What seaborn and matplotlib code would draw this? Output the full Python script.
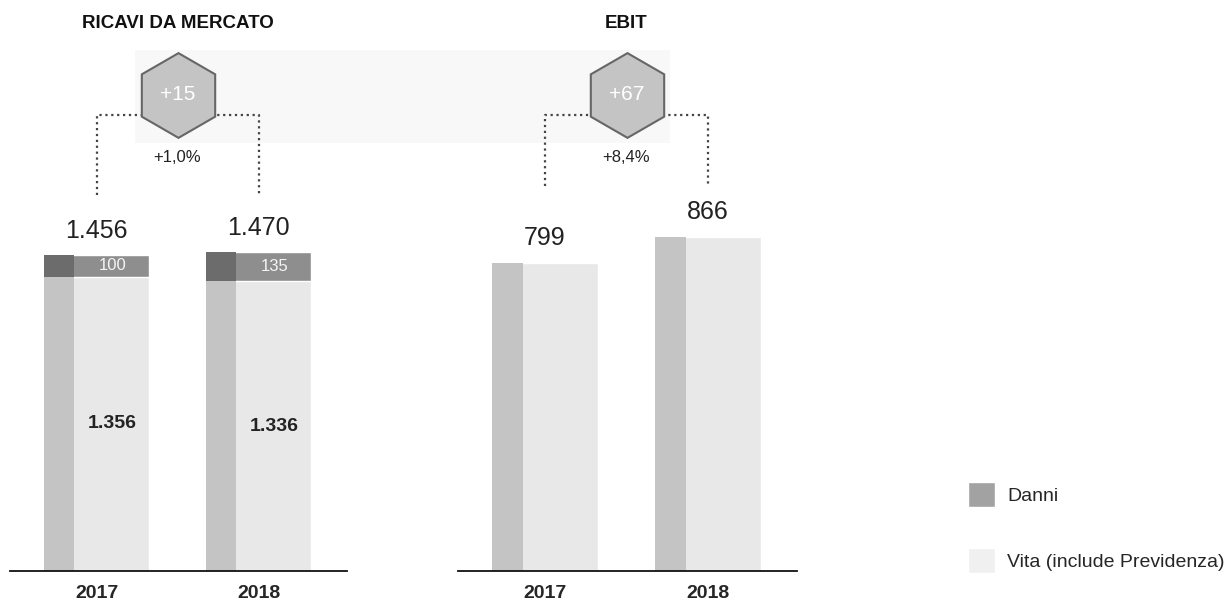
import matplotlib
matplotlib.use("Agg")
import matplotlib.pyplot as plt
import matplotlib.transforms as mtrans
from matplotlib.patches import Patch, Rectangle
import pandas as pd
import seaborn as sns

# dati
anni = ["2017", "2018"]
ricavi_vita = [1356, 1336]
ricavi_danni = [100, 135]
ricavi_totale = [1456, 1470]
ebit = [799, 866]
delta_ricavi = "+15"
delta_ricavi_pct = "+1,0%"
delta_ebit = "+67"
delta_ebit_pct = "+8,4%"

DANNI = "#8e8e8e"
DANNI_SCURO = "#6c6c6c"
VITA = "#e8e8e8"
VITA_SCURO = "#c4c4c4"

sns.set_style("white")
plt.rcParams['font.family'] = ['Liberation Sans', 'DejaVu Sans']

W, H = 1232, 607


def fmt(v):
    return f"{v:,}".replace(",", ".")


def striscia(ax, p, bottom, top, colore):
    # banda scura sul lato sinistro della barra
    ax.add_patch(Rectangle((p.get_x(), bottom), p.get_width() * 0.29, top - bottom,
                           facecolor=colore, edgecolor="none", zorder=p.get_zorder()))


fig = plt.figure(figsize=(W / 100, H / 100), dpi=100)
ax1 = fig.add_axes([10 / W, 36 / H, 337 / W, 531 / H])
ax2 = fig.add_axes([458 / W, 36 / H, 339 / W, 531 / H])

# sfondo chiaro dietro gli esagoni
fig.patches.append(Rectangle((135 / W, 1 - 143 / H), 535 / W, 93 / H, transform=fig.transFigure,
                             facecolor="#f8f8f8", edgecolor="none", zorder=-1))

# --- RICAVI DA MERCATO ---
df_ricavi = pd.DataFrame({"anno": anni, "vita": ricavi_vita, "danni": ricavi_danni, "totale": ricavi_totale})
sns.barplot(data=df_ricavi, x="anno", y="totale", color=DANNI, width=0.65, saturation=1, ax=ax1)
sns.barplot(data=df_ricavi, x="anno", y="vita", color=VITA, width=0.65, saturation=1, ax=ax1)
tot_patches = list(ax1.patches[:2])
vita_patches = list(ax1.patches[2:4])
for pt, pv in zip(tot_patches, vita_patches):
    striscia(ax1, pv, 0, pv.get_height(), VITA_SCURO)
    striscia(ax1, pt, pv.get_height(), pt.get_height(), DANNI_SCURO)

for i, (v, d, t) in enumerate(zip(ricavi_vita, ricavi_danni, ricavi_totale)):
    ax1.annotate(fmt(t), (i, t), xytext=(0, 9), textcoords="offset points",
                 ha="center", va="bottom", fontsize=18, color="#222222")
    ax1.text(i + 0.1, v / 2, fmt(v), ha="center", va="center", fontsize=14,
             fontweight="bold", color="#222222")
    ax1.text(i + 0.1, v + d / 2, fmt(d), ha="center", va="center", fontsize=12, color="#f4f4f4")
ax1.set_ylim(0, 2447)

# --- EBIT ---
df_ebit = pd.DataFrame({"anno": anni, "ebit": ebit})
sns.barplot(data=df_ebit, x="anno", y="ebit", color=VITA, width=0.65, saturation=1, ax=ax2)
for p in list(ax2.patches):
    striscia(ax2, p, 0, p.get_height(), VITA_SCURO)
for i, v in enumerate(ebit):
    ax2.annotate(fmt(v), (i, v), xytext=(0, 9), textcoords="offset points",
                 ha="center", va="bottom", fontsize=18, color="#222222")
ax2.set_ylim(0, 1376)

pannelli = [
    (ax1, "RICAVI DA MERCATO", delta_ricavi, delta_ricavi_pct, 195),
    (ax2, "EBIT", delta_ebit, delta_ebit_pct, 186),
]
for ax, titolo, delta, pct, fondo in pannelli:
    ax.set_xlim(-0.534, 1.546)
    ax.set_xlabel("")
    ax.set_ylabel("")
    ax.set_yticks([])
    ax.patch.set_visible(False)
    sns.despine(ax=ax, left=True)
    ax.spines["bottom"].set_color("#111111")
    ax.spines["bottom"].set_linewidth(1.3)
    ax.tick_params(axis="x", length=0, pad=10, labelsize=14)
    for t in ax.get_xticklabels():
        t.set_fontweight("bold")

    tr = mtrans.blended_transform_factory(ax.transData, fig.transFigure)
    y_alto = 1 - 115 / H
    y_basso = 1 - fondo / H
    ax.plot([0, 0, 1, 1], [y_basso, y_alto, y_alto, y_basso], ls=":", lw=1.6,
            color="#444444", transform=tr, clip_on=False, zorder=4)
    ax.plot(0.5, 1 - 95 / H, marker="h", ms=61, mfc="#c4c4c4", mec="#666666", mew=1.5,
            transform=tr, clip_on=False, zorder=5)
    ax.text(0.5, 1 - 95 / H, delta, transform=tr, ha="center", va="center",
            fontsize=15, color="white", zorder=6)
    ax.text(0.5, 1 - 158 / H, pct, transform=tr, ha="center", va="center",
            fontsize=12, color="#222222")
    ax.text(0.5, 1 - 24 / H, titolo, transform=tr, ha="center", va="center",
            fontsize=13.5, fontweight="bold", color="#111111")

legenda = [Patch(facecolor="#a2a2a2", label="Danni"),
           Patch(facecolor="#f0f0f0", label="Vita (include Previdenza)")]
fig.legend(handles=legenda, loc="upper left", bbox_to_anchor=(968 / W, 1 - 482 / H),
           frameon=False, fontsize=14, handlelength=1.4, handleheight=1.6,
           handletextpad=0.6, labelspacing=2.1, borderpad=0, borderaxespad=0)

fig.savefig("out.png", dpi=100)
